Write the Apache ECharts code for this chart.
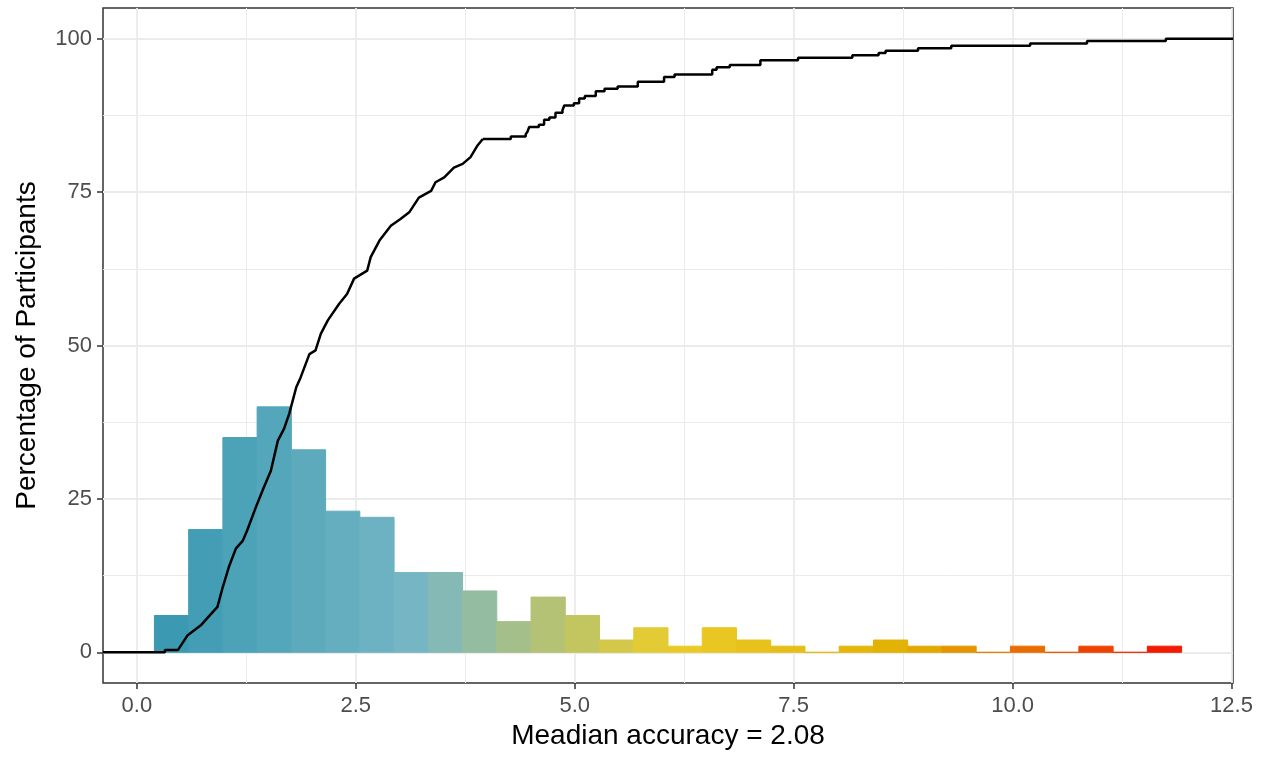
<!doctype html>
<html>
    <head>
        <meta charset="utf-8">
        <style>
            html, body { margin: 0; padding: 0; background: #fff; }
            #main { width: 1261px; height: 757px; }
        </style>
    </head>
    <body>
        <div id="main"></div>
        <script src="https://cdn.jsdelivr.net/npm/echarts@6/dist/echarts.min.js"></script>
        <script>
            // histogram: 30 bins starting at 0.2, counts per bin
            var binStart = 0.2;
            var binWidth = 0.391;
            var counts = [6, 20, 35, 40, 33, 23, 22, 13, 13, 10, 5, 9, 6, 2, 4,
                          1, 4, 2, 1, 0, 1, 2, 1, 1, 0, 1, 0, 1, 0, 1];

            // ECDF, steep part traced as a polyline
            var ecdfCurveX = [-0.387, 0.32, 0.32, 0.47, 0.58, 0.73, 0.85, 0.92, 0.98, 1.05, 1.13, 1.21,
                              1.26, 1.36, 1.45, 1.53, 1.61, 1.68, 1.74, 1.82, 1.87, 1.97, 2.04, 2.10,
                              2.18, 2.31, 2.40, 2.48, 2.63, 2.67, 2.77, 2.90, 3.01, 3.11, 3.22, 3.36,
                              3.41, 3.51, 3.62, 3.72, 3.81, 3.89, 3.95];
            var ecdfCurveY = [0, 0, 0.39, 0.39, 2.8, 4.4, 6.3, 7.4, 10.6, 13.9, 16.9, 18.2,
                              19.9, 23.7, 26.9, 29.6, 34.5, 36.4, 38.9, 43.2, 44.8, 48.6, 49.2, 51.9,
                              54.1, 56.8, 58.4, 60.9, 62.2, 64.4, 67.1, 69.5, 70.6, 71.7, 74.1, 75.2,
                              76.6, 77.4, 79.0, 79.6, 80.7, 82.6, 83.66];

            // ECDF, upper part as steps
            var ecdfStepX = [3.95, 4.27, 4.44, 4.46, 4.48, 4.59, 4.65, 4.71, 4.78, 4.86, 4.88, 4.99,
                             5.05, 5.115, 5.24, 5.34, 5.49, 5.72, 6.02, 6.14, 6.57, 6.62, 6.77, 7.12,
                             7.55, 8.17, 8.47, 8.55, 8.92, 9.30, 10.20, 10.85, 11.75, 12.517];
            var ecdfStepY = [83.66, 84.05, 84.44, 84.82, 85.60, 85.99, 86.77, 87.16, 87.94, 88.33, 89.11, 89.49,
                             90.27, 90.66, 91.44, 91.83, 92.22, 93.00, 93.77, 94.16, 94.94, 95.33, 95.72, 96.50,
                             96.89, 97.28, 97.67, 98.05, 98.44, 98.83, 99.22, 99.61, 100, 100];

            var xMajor = [0, 2.5, 5, 7.5, 10, 12.5];
            var xMinor = [1.25, 3.75, 6.25, 8.75, 11.25];
            var yMajor = [0, 25, 50, 75, 100];
            var yMinor = [12.5, 37.5, 62.5, 87.5];

            var palette = ['#3B9AB2', '#78B7C5', '#EBCC2A', '#E1AF00', '#F21A00'];

            function hexRgb(h) {
                return [parseInt(h.substr(1, 2), 16), parseInt(h.substr(3, 2), 16), parseInt(h.substr(5, 2), 16)];
            }
            function gradient(t) {
                var s = t * (palette.length - 1);
                var i = Math.min(Math.floor(s), palette.length - 2);
                var f = s - i;
                var a = hexRgb(palette[i]), b = hexRgb(palette[i + 1]);
                var c = a.map(function (v, k) { return Math.round(v + (b[k] - v) * f); });
                return 'rgb(' + c.join(',') + ')';
            }

            var barData = counts.map(function (c, i) {
                return [binStart + i * binWidth, binStart + (i + 1) * binWidth, c, i];
            });
            var curveData = ecdfCurveX.map(function (x, i) { return [x, ecdfCurveY[i]]; });
            var stepData = ecdfStepX.map(function (x, i) { return [x, ecdfStepY[i]]; });

            var font = 'Liberation Sans, Arial, sans-serif';
            var gridColor = '#EBEBEB';

            var chart = echarts.init(document.getElementById('main'));

            chart.setOption({
                animation: false,
                grid: {
                    left: 103, right: 28, top: 8, bottom: 74,
                    show: true,
                    borderColor: '#333333',
                    borderWidth: 1.5,
                    backgroundColor: 'transparent'
                },
                xAxis: [{
                    type: 'value',
                    min: -0.387,
                    max: 12.517,
                    name: 'Meadian accuracy = 2.08',
                    nameLocation: 'middle',
                    nameGap: 38,
                    nameTextStyle: { fontFamily: font, fontSize: 28, color: '#000' },
                    axisLine: { show: false, onZero: false },
                    axisTick: { show: true, length: 6, customValues: xMajor,
                                lineStyle: { color: '#333333', width: 1.5 } },
                    axisLabel: { customValues: xMajor, margin: 12, fontFamily: font, fontSize: 22, color: '#4D4D4D',
                                 formatter: function (v) { return v.toFixed(1); } },
                    splitLine: { show: true, lineStyle: { color: gridColor, width: 1.8 } }
                }, {
                    type: 'value',
                    min: -0.387,
                    max: 12.517,
                    position: 'top',
                    axisLine: { show: false, onZero: false },
                    axisTick: { show: false, customValues: xMinor },
                    axisLabel: { show: false, customValues: xMinor },
                    splitLine: { show: true, lineStyle: { color: gridColor, width: 1 } }
                }],
                yAxis: [{
                    type: 'value',
                    min: -5,
                    max: 105,
                    name: 'Percentage of Participants',
                    nameLocation: 'middle',
                    nameGap: 62,
                    nameTextStyle: { fontFamily: font, fontSize: 28, color: '#000' },
                    axisLine: { show: false, onZero: false },
                    axisTick: { show: true, length: 6, customValues: yMajor,
                                lineStyle: { color: '#333333', width: 1.5 } },
                    axisLabel: { customValues: yMajor, margin: 11, fontFamily: font, fontSize: 22, color: '#4D4D4D' },
                    splitLine: { show: true, lineStyle: { color: gridColor, width: 1.8 } }
                }, {
                    type: 'value',
                    min: -5,
                    max: 105,
                    position: 'right',
                    axisLine: { show: false, onZero: false },
                    axisTick: { show: false, customValues: yMinor },
                    axisLabel: { show: false, customValues: yMinor },
                    splitLine: { show: true, lineStyle: { color: gridColor, width: 1 } }
                }],
                series: [{
                    type: 'custom',
                    xAxisIndex: 0,
                    yAxisIndex: 0,
                    data: barData,
                    encode: { x: [0, 1], y: 2 },
                    renderItem: function (params, api) {
                        var p0 = api.coord([api.value(0), api.value(2)]);
                        var p1 = api.coord([api.value(1), 0]);
                        var col = gradient(api.value(3) / (counts.length - 1));
                        return {
                            type: 'rect',
                            shape: { x: p0[0], y: p0[1], width: p1[0] - p0[0], height: p1[1] - p0[1] },
                            style: { fill: col, stroke: col, lineWidth: 1 }
                        };
                    },
                    z: 2
                }, {
                    type: 'line',
                    xAxisIndex: 0,
                    yAxisIndex: 0,
                    data: curveData,
                    symbol: 'none',
                    lineStyle: { color: '#000', width: 2.5 },
                    z: 3
                }, {
                    type: 'line',
                    xAxisIndex: 0,
                    yAxisIndex: 0,
                    data: stepData,
                    step: 'end',
                    symbol: 'none',
                    lineStyle: { color: '#000', width: 2.5 },
                    z: 3
                }]
            });

            window.addEventListener('resize', function () {
                chart.resize();
            });
        </script>
    </body>
</html>
